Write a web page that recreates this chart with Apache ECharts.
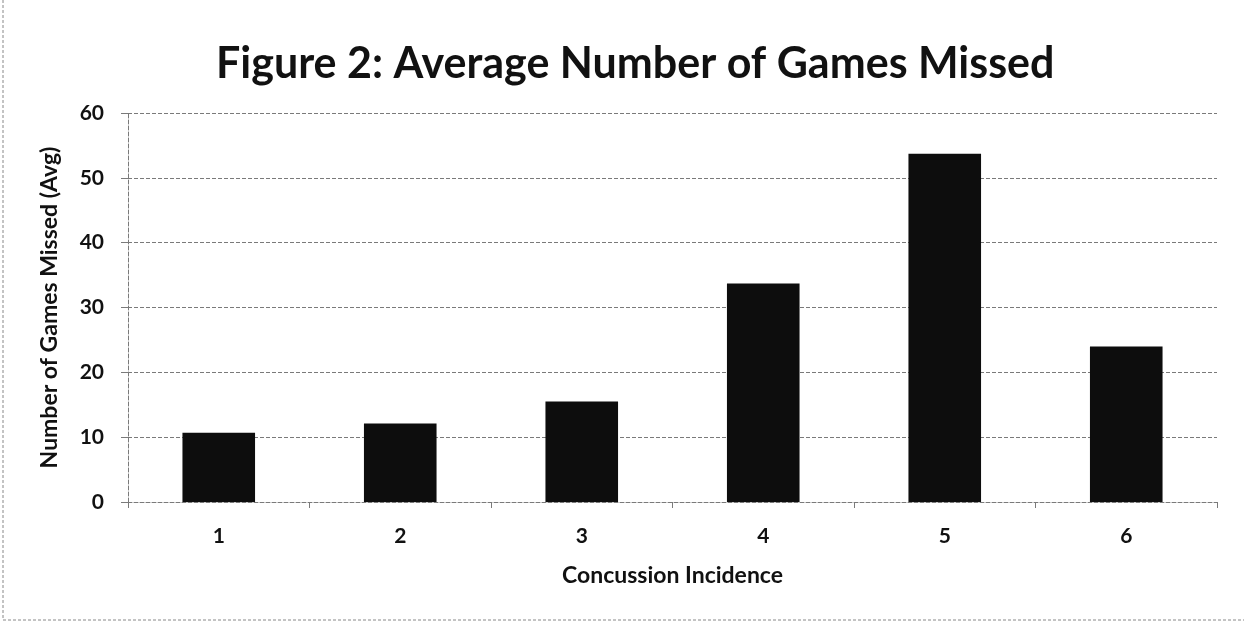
<!DOCTYPE html>
<html>
<head>
<meta charset="utf-8">
<script src="https://cdn.jsdelivr.net/npm/echarts@6/dist/echarts.min.js"></script>
<style>
  html, body { margin: 0; padding: 0; background: #fff; }
  #chart { width: 1244px; height: 623px; }
</style>
</head>
<body>
<div id="chart"></div>
<script>
// Concussion incidence vs. average games missed
const categories = ['1', '2', '3', '4', '5', '6'];
const gamesMissed = [10.7, 12.1, 15.5, 33.7, 53.7, 24.0];
const yTicks = [0, 10, 20, 30, 40, 50, 60];

const font = 'Lato, "Open Sans", sans-serif';
const ink = '#111111';
const gridGrey = '#7a7a7a';
const chart = echarts.init(document.getElementById('chart'), null, { renderer: 'canvas' });

chart.setOption({
  backgroundColor: '#ffffff',
  animation: false,
  title: {
    text: 'Figure 2: Average Number of Games Missed',
    left: 211,
    top: 38,
    textStyle: { fontFamily: font, fontWeight: 'bold', fontSize: 43, color: ink }
  },
  grid: { left: 128, right: 27, top: 113, bottom: 121 },
  xAxis: {
    type: 'category',
    data: categories,
    name: 'Concussion Incidence',
    nameLocation: 'middle',
    nameGap: 62,
    nameTextStyle: { fontFamily: font, fontWeight: 'bold', fontSize: 23, color: ink },
    axisLine: { lineStyle: { color: gridGrey, type: [4, 2], width: 1 } },
    axisTick: { show: true, length: 6, lineStyle: { color: gridGrey } },
    axisLabel: { fontFamily: font, fontWeight: 'bold', fontSize: 21, color: ink, margin: 24 }
  },
  yAxis: {
    type: 'value',
    min: yTicks[0],
    max: yTicks[yTicks.length - 1],
    interval: 10,
    name: 'Number of Games Missed (Avg)',
    nameLocation: 'middle',
    nameGap: 67,
    nameTextStyle: { fontFamily: font, fontWeight: 'bold', fontSize: 23, color: ink },
    axisLine: { show: true, lineStyle: { color: gridGrey, type: [4, 2], width: 1 } },
    axisTick: { show: true, length: 7, lineStyle: { color: gridGrey } },
    axisLabel: { fontFamily: font, fontWeight: 'bold', fontSize: 21, color: ink, margin: 24 },
    splitLine: { show: true, lineStyle: { color: gridGrey, type: [4, 2], width: 1 } }
  },
  series: [{
    type: 'bar',
    data: gamesMissed,
    barWidth: '40%',
    itemStyle: { color: '#0d0d0d' }
  }],
  graphic: [
    { type: 'line', shape: { x1: 3, y1: 0, x2: 3, y2: 620 }, style: { stroke: '#888', lineWidth: 1, lineDash: [3, 2] } },
    { type: 'line', shape: { x1: 3, y1: 620, x2: 1244, y2: 620 }, style: { stroke: '#888', lineWidth: 1, lineDash: [3, 2] } }
  ]
});
</script>
</body>
</html>
